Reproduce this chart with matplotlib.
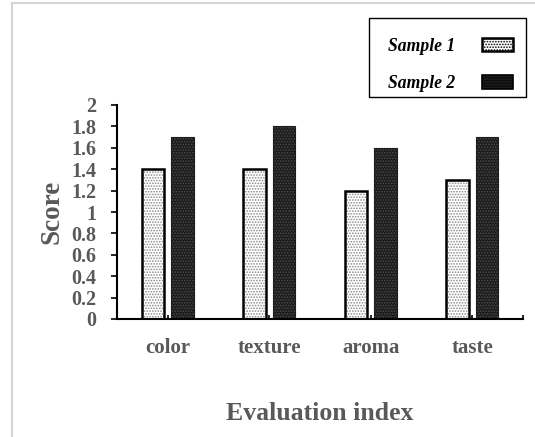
import matplotlib
matplotlib.use("Agg")
import matplotlib.pyplot as plt
import numpy as np
from matplotlib.lines import Line2D
from matplotlib.patches import Patch, Rectangle

# =========================
# DATOS
# =========================
categorias = ["color", "texture", "aroma", "taste"]
sample1 = [1.4, 1.4, 1.2, 1.3]
sample2 = [1.7, 1.8, 1.6, 1.7]
yticks = [0, 0.2, 0.4, 0.6, 0.8, 1, 1.2, 1.4, 1.6, 1.8, 2]
ytick_labels = ["0", "0.2", "0.4", "0.6", "0.8", "1", "1.2", "1.4", "1.6", "1.8", "2"]

gris = "#595959"
plt.rcParams["font.family"] = ["Liberation Serif", "DejaVu Serif"]
plt.rcParams["hatch.linewidth"] = 0.8

W, H = 535, 437
fig = plt.figure(figsize=(W / 100, H / 100), dpi=100)
ax = fig.add_axes([117 / W, 1 - 319 / H, 406 / W, 214 / H])

x = np.arange(len(categorias))
ancho = 0.22
desp = 0.145

# barras con trama (relleno) y luego el borde
ax.bar(x - desp, sample1, ancho, color="white", hatch="......", edgecolor="#8a8a8a", linewidth=0)
ax.bar(x - desp, sample1, ancho, fill=False, edgecolor="black", linewidth=1.8)
ax.bar(x + desp, sample2, ancho, color="#1c1c1c", hatch="......", edgecolor="#4a4a4a", linewidth=0)
ax.bar(x + desp, sample2, ancho, fill=False, edgecolor="#1c1c1c", linewidth=0.8)

ax.set_xlim(-0.5, 3.5)
ax.set_ylim(0, 2)

ax.spines["top"].set_visible(False)
ax.spines["right"].set_visible(False)
ax.spines["left"].set_linewidth(1.5)
ax.spines["bottom"].set_linewidth(1.5)

ax.set_yticks(yticks)
ax.set_yticklabels(ytick_labels)
ax.tick_params(axis="y", direction="out", length=4, width=1.2, pad=11,
               labelsize=14.5, labelcolor=gris)
ax.set_xticks(x)
ax.set_xticklabels(categorias)
ax.set_xticks([3.5], minor=True)
ax.tick_params(axis="x", which="both", direction="in", length=3, width=1.2, pad=14,
               labelsize=15, labelcolor=gris)
for lab in ax.get_xticklabels() + ax.get_yticklabels():
    lab.set_fontweight("bold")

ax.set_ylabel("Score", fontsize=19.5, fontweight="bold", color=gris)
ax.yaxis.set_label_coords(-0.13, 0.5)
ax.set_xlabel("Evaluation index", fontsize=18.5, fontweight="bold", color=gris)
ax.xaxis.set_label_coords(0.5, -0.39)

# Leyenda (sin marco, el marco se dibuja aparte)
handles = [
    Patch(facecolor="white", hatch="......", edgecolor="black", linewidth=1.8),
    Patch(facecolor="#1c1c1c", hatch="......", edgecolor="black", linewidth=1.2),
]
leg = fig.legend(handles, ["Sample 1", "Sample 2"], loc="upper left",
                 bbox_to_anchor=(372 / W, 1 - 22 / H),
                 markerfirst=False, frameon=False,
                 prop={"size": 12.7, "weight": "bold", "style": "italic"},
                 handlelength=1.8, handleheight=0.8, handletextpad=1.5,
                 labelspacing=1.15, borderpad=0.9, borderaxespad=0)
fig.add_artist(Rectangle((369 / W, 1 - 97 / H), 157 / W, 79 / H,
                         transform=fig.transFigure, fill=False,
                         edgecolor="black", linewidth=1.0))

# Marco gris exterior
fig.add_artist(Line2D([12 / W, 12 / W, 1], [0, 1 - 3 / H, 1 - 3 / H],
                      transform=fig.transFigure, color="#d4d4d4", linewidth=1.5))

fig.savefig("out.png", dpi=100)
